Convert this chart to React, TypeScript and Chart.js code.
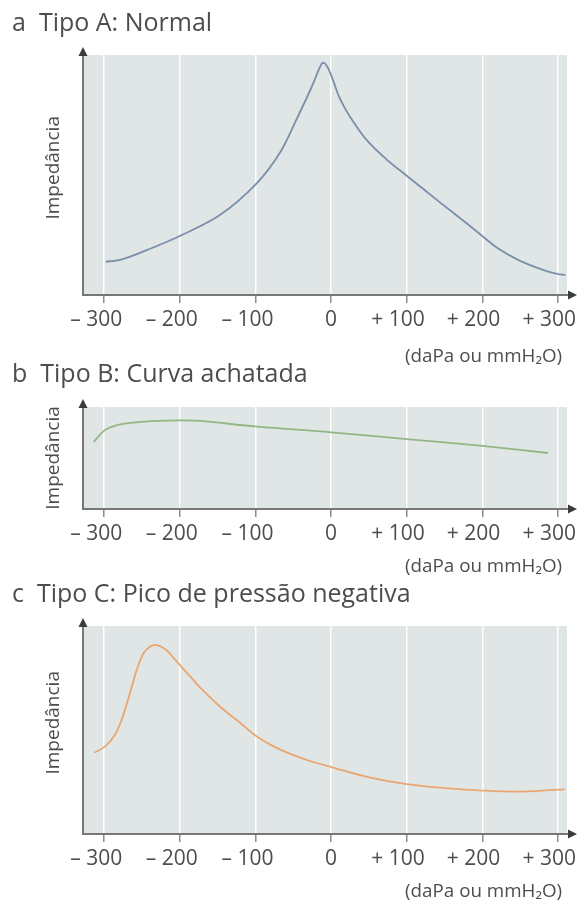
import React, { useEffect, useRef } from 'react';
import { Chart, registerables } from 'chart.js';

Chart.register(...registerables);

// ---------- data ----------
const TICK_VALUES = [-300, -200, -100, 0, 100, 200, 300];
const TICK_LABELS = ['– 300', '– 200', '– 100', '0', '+ 100', '+ 200', '+ 300'];
const UNIT_LABEL = '(daPa ou mmH₂O)';
const Y_LABEL = 'Impedância';

const TITLE_A = 'a  Tipo A: Normal';
const TITLE_B = 'b  Tipo B: Curva achatada';
const TITLE_C = 'c  Tipo C: Pico de pressão negativa';

const A_PRESSURE = [-298, -279, -243, -200, -147, -99, -67, -45, -28, -22.5, -18.5, -15.2, -12.6, -10.6, -8.6, -6, -2.6, 1.3, 5.3, 9.7, 17.2, 25, 47, 74, 100, 144, 180, 200, 220, 250, 281, 299, 310];
const A_IMPEDANCE = [13.9, 14.6, 18.8, 24.6, 33.3, 46.3, 59.6, 73.6, 85, 89, 92.1, 94.6, 96.2, 96.8, 96.6, 95.6, 93.7, 90.6, 87.1, 83.3, 78.5, 74.3, 64.6, 56.3, 49.7, 38.6, 29.7, 24.6, 19.6, 14.2, 10.4, 8.8, 8.3];

const B_PRESSURE = [-314, -306, -298, -282, -259, -229, -200, -173, -97, 0, 100, 200, 287];
const B_IMPEDANCE = [65.7, 72.5, 77.9, 82.4, 84.8, 86.3, 86.8, 86.3, 80.7, 75.2, 68.6, 61.8, 54.9];

const C_PRESSURE = [-313, -299, -286, -277, -266, -257, -248, -240, -232, -225, -217, -208, -197, -184, -173, -147, -120, -99, -78, -54, -28, 0, 49, 100, 151, 200, 253, 309];
const C_IMPEDANCE = [39.1, 42, 47.6, 54.8, 67.6, 78.8, 86.9, 89.9, 90.9, 90.1, 88.2, 84.6, 80, 74.8, 70.4, 61.3, 53.4, 47.1, 42.5, 38.5, 35.1, 32.2, 27.4, 24, 22.1, 20.9, 20.4, 21.5];

const X_MIN = -328;
const X_MAX = 312;
const Y_MIN = 0;
const Y_MAX = 100;

// ---------- style ----------
const FONT = "'Open Sans', Lato, sans-serif";
const TEXT = '#4d4d4d';
const AXIS = '#777777';
const ARROW = '#3c3c3c';
const BG = '#e0e6e6';
const TITLE_SIZE = 25;
const TITLE_LH = 1.2;
const UNIT_SIZE = 18.8;
const YLABEL_SIZE = 19;

type PanelCfg = {
  title: string;
  xs: number[];
  ys: number[];
  color: string;
  top: number;
  height: number;
  titleCenter: number;
  areaTop: number;
  areaBottom: number;
  unitOffset: number;
  yLabelLead: string;
};

const PANELS: PanelCfg[] = [
  { title: TITLE_A, xs: A_PRESSURE, ys: A_IMPEDANCE, color: '#7a8fa8', top: 0, height: 370, titleCenter: 24, areaTop: 55, areaBottom: 295, unitOffset: 13, yLabelLead: '\u2002 ' },
  { title: TITLE_B, xs: B_PRESSURE, ys: B_IMPEDANCE, color: '#92b785', top: 345, height: 235, titleCenter: 30, areaTop: 62, areaBottom: 164, unitOffset: 13, yLabelLead: '' },
  { title: TITLE_C, xs: C_PRESSURE, ys: C_IMPEDANCE, color: '#e9a672', top: 565, height: 336, titleCenter: 30, areaTop: 61, areaBottom: 269, unitOffset: 9, yLabelLead: '\u2002 ' },
];

// pad so that the digits (not the sign) sit centred on the tick
function padLabel(label: string): string {
  if (label.startsWith('–')) return label + '\u2002 ';
  if (label.startsWith('+')) return label + '\u2007 ';
  return label;
}

const bgPlugin = {
  id: 'areaBg',
  beforeDraw(chart: any) {
    const { ctx, chartArea } = chart;
    if (!chartArea) return;
    ctx.save();
    ctx.fillStyle = BG;
    ctx.fillRect(chartArea.left, chartArea.top, chartArea.right - chartArea.left, chartArea.bottom - chartArea.top);
    ctx.restore();
  },
};

const arrowPlugin = {
  id: 'axisArrows',
  afterDraw(chart: any) {
    const { ctx, chartArea } = chart;
    const { left, top, right, bottom } = chartArea;
    ctx.save();
    ctx.strokeStyle = AXIS;
    ctx.lineWidth = 2;
    ctx.beginPath();
    ctx.moveTo(right - 1, bottom);
    ctx.lineTo(right + 3, bottom);
    ctx.stroke();
    ctx.fillStyle = ARROW;
    ctx.beginPath();
    ctx.moveTo(left, top - 8);
    ctx.lineTo(left - 4.5, top + 1);
    ctx.lineTo(left + 4.5, top + 1);
    ctx.closePath();
    ctx.fill();
    ctx.beginPath();
    ctx.moveTo(right + 10, bottom);
    ctx.lineTo(right + 1, bottom - 4.5);
    ctx.lineTo(right + 1, bottom + 4.5);
    ctx.closePath();
    ctx.fill();
    ctx.restore();
  },
};

function makeConfig(p: PanelCfg): any {
  const half = (TITLE_SIZE * TITLE_LH) / 2;
  return {
    type: 'line',
    data: {
      datasets: [
        {
          data: p.xs.map((x, i) => ({ x, y: p.ys[i] })),
          borderColor: p.color,
          borderWidth: 1.8,
          pointRadius: 0,
          fill: false,
          tension: 0.35,
        },
      ],
    },
    options: {
      responsive: false,
      animation: false,
      events: [],
      layout: { padding: { left: 12, right: 10, top: 0, bottom: 0 } },
      plugins: {
        legend: { display: false },
        tooltip: { enabled: false },
        title: {
          display: true,
          text: p.title,
          align: 'start',
          color: TEXT,
          font: { family: FONT, size: TITLE_SIZE, weight: 'normal', lineHeight: TITLE_LH },
          padding: { top: p.titleCenter - half, bottom: p.areaTop - p.titleCenter - half },
        },
      },
      scales: {
        x: {
          type: 'linear',
          min: X_MIN,
          max: X_MAX,
          bounds: 'data',
          afterBuildTicks: (s: any) => {
            s.ticks = TICK_VALUES.map((v) => ({ value: v }));
          },
          afterFit: (s: any) => {
            s.height = p.height - p.areaBottom;
            s.paddingLeft = 0;
            s.paddingRight = 0;
          },
          ticks: {
            autoSkip: false,
            maxRotation: 0,
            minRotation: 0,
            padding: 4,
            color: TEXT,
            font: { family: FONT, size: 21, lineHeight: 1.2 },
            callback: (_v: any, i: number) => padLabel(TICK_LABELS[i]),
          },
          grid: {
            color: '#ffffff',
            lineWidth: 1.5,
            tickColor: '#8c8c8c',
            tickLength: 8,
            tickWidth: 1.5,
          },
          border: { display: true, color: AXIS, width: 2 },
          title: {
            display: true,
            text: UNIT_LABEL + '\u00A0',
            align: 'end',
            color: TEXT,
            font: { family: FONT, size: UNIT_SIZE, lineHeight: 1.2 },
            padding: { top: 0, bottom: p.unitOffset - (UNIT_SIZE * 1.2) / 2 },
          },
        },
        y: {
          min: Y_MIN,
          max: Y_MAX,
          ticks: { display: false },
          grid: { display: false },
          border: { display: true, color: AXIS, width: 2 },
          afterFit: (s: any) => {
            s.width = 71;
            s.paddingTop = 0;
            s.paddingBottom = 0;
          },
          title: {
            display: true,
            text: p.yLabelLead + Y_LABEL,
            color: TEXT,
            font: { family: FONT, size: YLABEL_SIZE, lineHeight: 1.2 },
            padding: { top: 42 - (YLABEL_SIZE * 1.2) / 2, bottom: 0 },
          },
        },
      },
    },
    plugins: [bgPlugin, arrowPlugin],
  };
}

function Panel({ cfg }: { cfg: PanelCfg }) {
  const ref = useRef<HTMLCanvasElement>(null);
  useEffect(() => {
    const chart = new Chart(ref.current as HTMLCanvasElement, makeConfig(cfg));
    return () => chart.destroy();
  }, [cfg]);
  return (
    <canvas
      ref={ref}
      width={577}
      height={cfg.height}
      style={{ position: 'absolute', left: 0, top: cfg.top, width: 577, height: cfg.height, display: 'block' }}
    />
  );
}

export default function App() {
  return (
    <div
      style={{
        position: 'absolute',
        left: 0,
        top: 0,
        width: 577,
        height: 901,
        overflow: 'hidden',
        background: '#ffffff',
      }}
    >
      {PANELS.map((p, i) => (
        <Panel key={i} cfg={p} />
      ))}
    </div>
  );
}
